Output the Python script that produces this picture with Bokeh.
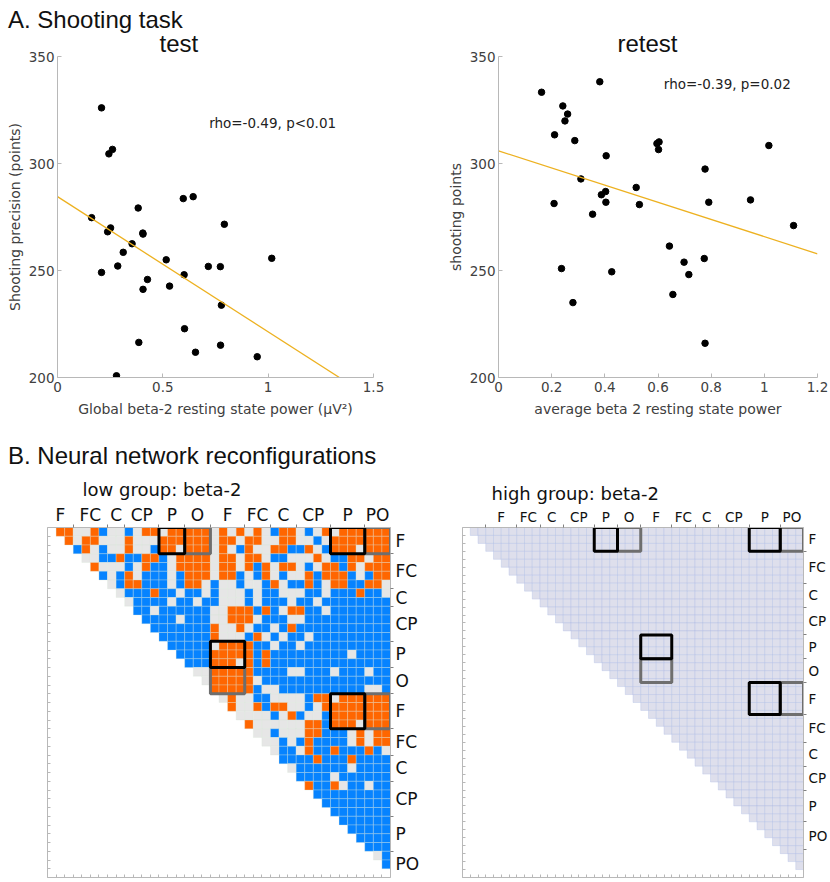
from bokeh.plotting import figure
from bokeh.models import Range1d, FixedTicker, LinearAxis, Label, Div, ColumnDataSource
from bokeh.layouts import column, row
from bokeh.embed import file_html
from bokeh.resources import INLINE

# ---------------- data ----------------
test_power = [0.209, 0.244, 0.261, 0.162, 0.238, 0.252, 0.312, 0.354, 0.286, 0.209, 0.383,
              0.405, 0.406, 0.427, 0.406, 0.386, 0.280, 0.516, 0.532, 0.597, 0.644, 0.601,
              0.603, 0.655, 0.716, 0.773, 0.792, 0.778, 0.774, 0.948, 1.017]
test_points = [326.0, 304.5, 306.6, 274.7, 268.1, 269.9, 258.5, 262.5, 252.1, 249.1, 279.2,
               267.5, 267.0, 245.8, 241.2, 216.4, 200.8, 255.0, 242.7, 283.6, 284.5, 248.0,
               222.8, 211.8, 251.9, 251.8, 271.6, 233.8, 215.1, 209.7, 255.7]
test_fit_x = [0.0, 1.338]
test_fit_y = [284.5, 200.0]
test_stat = "rho=-0.49, p<0.01"

retest_power = [0.162, 0.381, 0.242, 0.260, 0.250, 0.211, 0.287, 0.405, 0.596, 0.604, 0.602,
                1.017, 0.777, 0.310, 0.518, 0.387, 0.403, 0.404, 0.530, 0.209, 0.791, 0.948,
                0.354, 1.110, 0.643, 0.698, 0.716, 0.774, 0.237, 0.426, 0.656, 0.280, 0.777]
retest_points = [333.3, 338.2, 326.9, 323.1, 319.9, 313.4, 310.7, 303.6, 309.3, 310.1, 306.5,
                 308.4, 297.4, 292.8, 288.8, 285.4, 286.9, 281.9, 280.8, 281.3, 281.9, 283.0,
                 276.3, 271.0, 261.4, 253.9, 248.1, 255.6, 250.9, 249.4, 238.8, 235.0, 216.0]
retest_fit_x = [0.0, 1.2]
retest_fit_y = [305.9, 257.8]
retest_stat = "rho=-0.39, p=0.02"

y_ticks = [200, 250, 300, 350]
y_tick_labels = ["200", "250", "300", "350"]
test_x_ticks = [0, 0.5, 1, 1.5]
test_x_tick_labels = ["0", "0.5", "1", "1.5"]
retest_x_ticks = [0, 0.2, 0.4, 0.6, 0.8, 1, 1.2]
retest_x_tick_labels = ["0", "0.2", "0.4", "0.6", "0.8", "1", "1.2"]

group_labels = ["F", "FC", "C", "CP", "P", "O", "F", "FC", "C", "CP", "P", "PO"]

# low group: 40 channels, channel-group boundaries (same for rows and columns)
low_n = 40
low_bounds = [0, 3, 7, 9, 13, 16, 19, 23, 26, 29, 33, 37, 40]
# upper triangle, row r lists columns r+1..39 ; o = increase, b = decrease, g = n.s.
low_rows = [
    "oogg obgg bgoo gooo oogo gogo gboo gbgo gooo ooo",
    "ogoo gggo gggo oooo ogoo goog goog gbgo oooo oo",
    "bogb ggog gboo gooo gogb oggo obbo gboo ogoo o",
    "ggbb obbo obgo ooog oogo ogbb gggo gbbo ogoo",
    "oggg bgob bgoo oogo ogob ogoo gbgo obog ooo",
    "bgbo gbbb gboo ogoo bgbo gbgg oboo obgb oo",
    "gboo bbbg boog bggb ggbo gbbo bgoo bboo g",
    "gbbb obbg bbgb gggb gbbg ggbb gbbb obbg",
    "gbbb bgbb gbbg ggbg bbbg bbgb bbbb bbb",
    "bbgb bbbb bggo oobo bgoo bbgb bbbb bb",
    "bbbb gbbb ggoo ogbb bggb bbbb bbbb b",
    "bbbb bbbo ggog bbgb obbb bbbb bbbb",
    "bbbb bbog ggbo gbgb bgbb bbbb bbb",
    "bbbb bgoo oobb gbbg bbbb bbbb bb",
    "bbbb oooo obob bbbb bbbb gbbb b",
    "bbbo oogo bobb bbbb bbbb bbbb",
    "ggoo ooob bbbg gbbb gbbb gbb",
    "gooo oogb bbbb bbbb bbbb bb",
    "oooo obgg bbbb bbbb bbgg b",
    "gogg bbgg ggbo ogoo oooo",
    "oggo boog gbgo oooo ooo",
    "gggg bgob ggbo oooo oo",
    "oggg gggo oboo ogoo o",
    "ggbg ggoo bbbg ogoo",
    "ggbg bobb bbgo goo",
    "gbbg obbo bbbo bg",
    "bbbb obbb obbb b",
    "gbbb bbbg bbbb",
    "bbbb gbbb bbb",
    "obbo gbbg bb",
    "bbbbbbbbb",
    "bbbbbbbb",
    "bbbbbbb",
    "bbbbbb",
    "bbbbb",
    "bbbb",
    "bbb",
    "gb",
    "b",
]

# high group: 44 channels, no significant change anywhere
high_n = 44
high_col_bounds = [3, 7, 10, 13, 17, 20, 23, 27, 30, 33, 37, 41, 44]
high_row_bounds = [0, 3, 7, 10, 13.5, 16.5, 19.5, 23.5, 27, 30, 33, 37, 40.5]

# highlighted blocks: (row group, column group, kind)
box_row_group = [0, 0, 0, 0, 4, 5, 6, 6]
box_col_group = [4, 5, 10, 11, 6, 6, 10, 11]
box_kind = ["main", "side", "main", "side", "main", "side", "main", "side"]

# ---------------- styles ----------------
FONT = "DejaVu Sans"
HFONT = "Liberation Sans"
TXT = "#404040"
AX = "#b8b8b8"
COLORS = {"o": "#ff6600", "b": "#0683ff", "g": "#e6e6e6", "n": "#dedfec"}
BOX_COLORS = {"main": "#000000", "side": "#6e6e6e"}


def nice(v):
    return int(v) if float(v).is_integer() else v


def scatter_panel(width, bl, br, xr, xticks, xlabels, px, py, fx, fy, xlabel, ylabel,
                  title, toff, stat, sx, sy):
    p = figure(width=width, height=407, x_range=Range1d(*xr), y_range=Range1d(200, 350),
               min_border_left=bl, min_border_right=br, min_border_top=30, min_border_bottom=56,
               output_backend="svg", toolbar_location=None, title=title)
    p.border_fill_color = None
    p.title.align = "left"
    p.title.offset = toff
    p.title.standoff = 0
    p.title.text_font = HFONT
    p.title.text_font_size = "24px"
    p.title.text_font_style = "normal"
    p.title.text_color = "#111111"
    p.outline_line_color = None
    p.grid.visible = False
    p.xaxis.ticker = FixedTicker(ticks=xticks)
    p.xaxis.major_label_overrides = dict(zip(xticks, xlabels))
    p.yaxis.ticker = FixedTicker(ticks=y_ticks)
    p.yaxis.major_label_overrides = dict(zip(y_ticks, y_tick_labels))
    p.xaxis.axis_label = xlabel
    p.yaxis.axis_label = ylabel
    for ax in (p.xaxis, p.yaxis):
        ax.axis_line_color = AX
        ax.major_tick_line_color = AX
        ax.major_tick_in = 4
        ax.major_tick_out = 0
        ax.minor_tick_line_color = None
        ax.major_label_text_font = FONT
        ax.major_label_text_font_size = "13.5px"
        ax.major_label_text_color = TXT
        ax.axis_label_text_font = FONT
        ax.axis_label_text_font_size = "14px"
        ax.axis_label_text_font_style = "normal"
        ax.axis_label_text_color = TXT
        ax.major_label_standoff = 3
        ax.axis_label_standoff = 3
    p.xaxis.major_label_standoff = 4
    p.xaxis.axis_label_standoff = 6
    p.scatter(px, py, size=6.5, color="black")
    p.line(fx, fy, line_color="#EDB120", line_width=1.3)
    p.add_layout(Label(x=sx, y=sy, text=stat, text_font=FONT, text_font_size="13.5px",
                       text_color="#222222"))
    return p


def matrix_panel(width, bl, br, n, title, toff, cells, row_bounds, col_bounds, lab_size,
                 edge_color, edge_width):
    p = figure(width=width, height=408, x_range=Range1d(0, n), y_range=Range1d(n, 0),
               x_axis_location=None, y_axis_location=None,
               min_border_left=bl, min_border_right=br, min_border_top=54, min_border_bottom=4,
               output_backend="svg", toolbar_location=None, title=title)
    p.title.align = "left"
    p.title.offset = toff
    p.title.standoff = 4
    p.title.text_font = FONT
    p.title.text_font_size = "18px"
    p.title.text_font_style = "normal"
    p.title.text_color = "#111111"
    p.outline_line_color = None
    p.grid.visible = False

    src = ColumnDataSource(cells)
    p.quad(left="l", right="r", top="t", bottom="b", fill_color="c", source=src,
           line_color=edge_color, line_width=edge_width, line_alpha=0.6)

    # highlighted blocks
    bl_, br_, bt_, bb_, bc_ = [], [], [], [], []
    for rg, cg, k in zip(box_row_group, box_col_group, box_kind):
        bl_.append(col_bounds[cg]); br_.append(col_bounds[cg + 1])
        bt_.append(row_bounds[rg]); bb_.append(row_bounds[rg + 1])
        bc_.append(BOX_COLORS[k])
    order = sorted(range(len(bc_)), key=lambda i: bc_[i] == "#000000")
    p.quad(left=[bl_[i] for i in order], right=[br_[i] for i in order],
           top=[bt_[i] for i in order], bottom=[bb_[i] for i in order],
           fill_color=None, line_color=[bc_[i] for i in order], line_width=3)

    def group_axis(bounds, loc, standoff):
        centers = [nice((a + b) / 2) for a, b in zip(bounds[:-1], bounds[1:])]
        minors = [nice(b) for b in bounds if 0 < b < n]
        ax = LinearAxis(ticker=FixedTicker(ticks=centers, minor_ticks=minors),
                        major_label_overrides=dict(zip(centers, group_labels)))
        ax.major_tick_line_color = None
        ax.major_tick_in = 0
        ax.major_tick_out = 0
        ax.minor_tick_line_color = "#808080"
        ax.minor_tick_in = 0
        ax.minor_tick_out = 3
        ax.axis_line_color = AX
        ax.major_label_text_font = FONT
        ax.major_label_text_font_size = lab_size
        ax.major_label_text_color = "#111111"
        ax.major_label_standoff = standoff
        p.add_layout(ax, loc)

    def cell_axis(loc):
        ticks = list(range(n + 1))
        ax = LinearAxis(ticker=FixedTicker(ticks=ticks),
                        major_label_overrides={t: "" for t in ticks})
        ax.major_tick_line_color = AX
        ax.major_tick_in = 3
        ax.major_tick_out = 0
        ax.minor_tick_line_color = None
        ax.axis_line_color = AX
        ax.major_label_standoff = 0
        ax.major_label_text_font_size = "1px"
        p.add_layout(ax, loc)

    group_axis(col_bounds, "above", 0)
    group_axis(row_bounds, "right", 2)
    cell_axis("left")
    cell_axis("below")
    return p


# ---------------- cells ----------------
low_cells = {"l": [], "r": [], "t": [], "b": [], "c": []}
for r, s in enumerate(low_rows):
    s = s.replace(" ", "")
    for k, ch in enumerate(s[: low_n - 1 - r]):
        c = r + 1 + k
        low_cells["l"].append(c); low_cells["r"].append(c + 1)
        low_cells["t"].append(r); low_cells["b"].append(r + 1)
        low_cells["c"].append(COLORS[ch])

high_cells = {"l": [], "r": [], "t": [], "b": [], "c": []}
for r in range(high_n):
    for c in range(r + 1, high_n):
        high_cells["l"].append(c); high_cells["r"].append(c + 1)
        high_cells["t"].append(r); high_cells["b"].append(r + 1)
        high_cells["c"].append(COLORS["n"])

# ---------------- panels ----------------
p1 = scatter_panel(420, 52, 50, (0, 1.5), test_x_ticks, test_x_tick_labels,
                   test_power, test_points, test_fit_x, test_fit_y,
                   "Global beta-2 resting state power (\u03bcV\u00b2)", "Shooting precision (points)",
                   "test", 102, test_stat, 0.72, 315)
p2 = scatter_panel(407, 75, 13, (0, 1.2), retest_x_ticks, retest_x_tick_labels,
                   retest_power, retest_points, retest_fit_x, retest_fit_y,
                   "average beta 2 resting state power", "shooting points",
                   "retest", 119, retest_stat, 0.622, 333.5)

p3 = matrix_panel(414, 39, 31, low_n, "low group: beta-2", 35, low_cells,
                  low_bounds, low_bounds, "17px", "#d9e6d9", 0.5)
p4 = matrix_panel(408, 40, 22, high_n, "high group: beta-2", 29, high_cells,
                  high_row_bounds, high_col_bounds, "13.5px", "#aebde6", 0.6)

head_style = {"font-family": "Liberation Sans", "font-size": "24px", "color": "#111111",
              "white-space": "nowrap"}
divA = Div(text="A. Shooting task", width=814, height=24, margin=(0, 0, 0, 8),
           styles=dict(head_style, **{"line-height": "22px", "padding-top": "1px"}))
divB = Div(text="B. Neural network reconfigurations", width=814, height=40, margin=(0, 0, 0, 8),
           styles=dict(head_style, **{"line-height": "26px", "padding-top": "10px"}))

row1 = row(p1, p2, margin=(-6, 0, 0, 3))
row2 = row(p3, p4, margin=(0, 0, 0, 8))
layout = column(divA, row1, divB, row2, margin=(8, 0, 0, 0))

open("out.html", "w").write(file_html(layout, INLINE))
